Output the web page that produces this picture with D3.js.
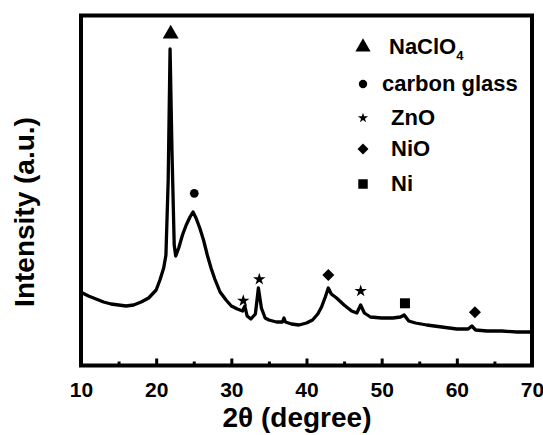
<!DOCTYPE html>
<html>
<head>
<meta charset="utf-8">
<script src="https://cdn.jsdelivr.net/npm/d3@7"></script>
<style>
  body { margin: 0; background: #fff; }
  svg text { font-family: "Liberation Sans", Arial, sans-serif; font-weight: bold; fill: #000; }
</style>
</head>
<body>
<div id="chart"></div>
<script>
// XRD pattern, 2θ (degree) vs intensity (a.u.)
var angle = [10.2, 11, 12, 13, 14, 15, 16, 17, 18, 19, 20, 20.5, 21, 21.3, 21.6, 21.85, 22.1, 22.4, 22.6,
    23, 23.5, 24, 24.5, 24.9, 25.3, 25.8, 26.3, 26.8, 27.3, 27.8, 28.5, 29.3, 30, 30.8, 31.5, 31.8,
    32.1, 32.6, 33.2, 33.6, 34, 34.5, 35, 36, 36.8, 37, 37.2, 38, 39, 40, 40.8, 41.5, 42, 42.5, 42.9,
    43.3, 44, 45, 46, 46.7, 47.2, 47.7, 48.5, 50, 51.5, 52.5, 53, 53.6, 54.5, 56, 58, 60, 61.5, 62,
    62.5, 64, 66, 68, 70];
var intensity = [725, 695, 665, 635, 615, 605, 595, 605, 635, 675, 755, 855, 975, 1105, 1855, 3165, 2155, 1205, 1095,
    1175, 1305, 1405, 1485, 1535, 1475, 1375, 1255, 1105, 975, 865, 735, 655, 595, 565, 545, 595,
    495, 465, 515, 775, 575, 475, 455, 435, 435, 475, 435, 415, 405, 425, 455, 515, 585, 685, 775,
    715, 675, 605, 545, 525, 605, 525, 485, 475, 475, 485, 505, 445, 425, 405, 385, 365, 365, 395,
    355, 345, 345, 335, 335];

// phase markers above the peaks
var markerPhase = ["NaClO4", "carbon glass", "ZnO", "ZnO", "NiO", "ZnO", "Ni", "NiO"];
var markerAngle = [21.93, 25.07, 31.59, 33.72, 42.9, 47.21, 53.1, 62.41];
var markerIntensity = [3315, 1722, 648, 862, 905, 745, 622, 532];

var legendPhases = ["NaClO4", "carbon glass", "ZnO", "NiO", "Ni"];
var majorTicks = [10, 20, 30, 40, 50, 60, 70];
var minorTicks = [15, 25, 35, 45, 55, 65];

var width = 543, height = 435;
var margin = { top: 15.5, right: 11, bottom: 69.5, left: 81 };

var svg = d3.select("#chart")
    .append("svg")
    .attr("width", width)
    .attr("height", height);

var x = d3.scaleLinear()
    .domain([10, 70])
    .range([margin.left, width - margin.right]);

var y = d3.scaleLinear()
    .domain([0, 3500])
    .range([height - margin.bottom, margin.top]);

// symbol for each phase
var symbolFor = {
    "NaClO4": { type: d3.symbolTriangle, size: 110, rot: 0, legendSize: 100 },
    "carbon glass": { type: d3.symbolCircle, size: 60, rot: 0, legendSize: 55 },
    "ZnO": { type: d3.symbolStar, size: 48, rot: 0, legendSize: 32 },
    "NiO": { type: d3.symbolSquare, size: 72, rot: 45, legendSize: 60 },
    "Ni": { type: d3.symbolSquare, size: 100, rot: 0, legendSize: 90 }
};

// the pattern
var line = d3.line()
    .x(function(d, i) { return x(angle[i]); })
    .y(function(d) { return y(d); });

svg.append("path")
    .datum(intensity)
    .attr("fill", "none")
    .attr("stroke", "#000")
    .attr("stroke-width", 3.3)
    .attr("stroke-linejoin", "round")
    .attr("d", line);

// markers over the peaks
svg.selectAll(".marker")
    .data(markerPhase)
    .enter()
    .append("path")
    .attr("class", "marker")
    .attr("d", function(d) { return d3.symbol().type(symbolFor[d].type).size(symbolFor[d].size)(); })
    .attr("transform", function(d, i) {
        return "translate(" + x(markerAngle[i]) + "," + y(markerIntensity[i]) + ") rotate(" + symbolFor[d].rot + ")";
    })
    .attr("fill", "#000");

// x axis, ticks pointing inward
var xAxis = svg.append("g")
    .attr("transform", "translate(0," + (height - margin.bottom) + ")")
    .call(d3.axisBottom(x).tickValues(majorTicks).tickSize(-7).tickPadding(17).tickFormat(d3.format("d")));

svg.append("g")
    .attr("transform", "translate(0," + (height - margin.bottom) + ")")
    .call(d3.axisBottom(x).tickValues(minorTicks).tickSize(-4).tickFormat(""))
    .call(function(g) { g.select(".domain").remove(); });

svg.selectAll(".tick line").attr("stroke", "#000").attr("stroke-width", 3);
xAxis.select(".domain").remove();
xAxis.selectAll("text").style("font-size", "21px");

// frame
svg.append("rect")
    .attr("x", margin.left)
    .attr("y", margin.top)
    .attr("width", width - margin.left - margin.right)
    .attr("height", height - margin.top - margin.bottom)
    .attr("fill", "none")
    .attr("stroke", "#000")
    .attr("stroke-width", 4);

// axis titles
svg.append("text")
    .attr("x", 297)
    .attr("y", 427)
    .attr("text-anchor", "middle")
    .style("font-size", "28px")
    .text("2θ (degree)");

svg.append("text")
    .attr("transform", "rotate(-90)")
    .attr("x", -212)
    .attr("y", 34)
    .attr("text-anchor", "middle")
    .style("font-size", "28px")
    .text("Intensity (a.u.)");

// legend
var legendY = [47, 84, 118, 149, 184];
var legendTextX = [389, 382, 391, 391, 391];
var legend = svg.selectAll(".legend")
    .data(legendPhases)
    .enter()
    .append("g")
    .attr("class", "legend");

legend.append("path")
    .attr("d", function(d) { return d3.symbol().type(symbolFor[d].type).size(symbolFor[d].legendSize)(); })
    .attr("transform", function(d, i) { return "translate(363," + legendY[i] + ") rotate(" + symbolFor[d].rot + ")"; })
    .attr("fill", "#000");

var labels = legend.append("text")
    .attr("x", function(d, i) { return legendTextX[i]; })
    .attr("y", function(d, i) { return legendY[i] + 7; })
    .style("font-size", "22px");

labels.each(function(d) {
    var t = d3.select(this);
    if (d === "NaClO4") {
        t.append("tspan").text("NaClO");
        t.append("tspan").attr("dy", 6).style("font-size", "13px").text("4");
    } else {
        t.text(d);
    }
});
</script>
</body>
</html>
